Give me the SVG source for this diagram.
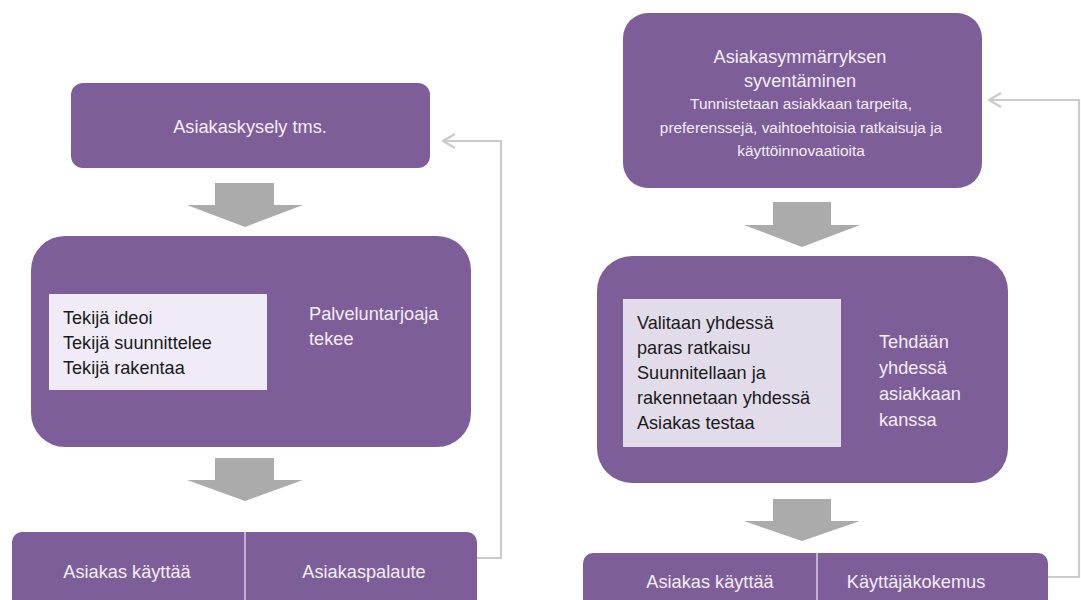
<svg xmlns="http://www.w3.org/2000/svg" width="1081" height="600" viewBox="0 0 1081 600">
<defs>
<style>
.box{fill:#7e5e99}
.inner{fill:#f0ebf7}
.inner2{fill:#e2dcea}
.arr{fill:#ababab}
.fb{fill:none;stroke:#cbcbcb;stroke-width:2.2}
.div{stroke:#d8d0e0;stroke-width:1.5}
text{font-family:"Liberation Sans",Arial,sans-serif}
.wt{fill:#f2eef7;font-size:18.2px}
.sm{font-size:15.4px}
.dk{fill:#1a1a1a;font-size:18.1px}
</style>
<marker id="open" viewBox="0 0 14 16" refX="13" refY="8" markerWidth="14" markerHeight="16" markerUnits="userSpaceOnUse" orient="auto">
<path d="M1,1 L13,8 L1,15" fill="none" stroke="#cbcbcb" stroke-width="2.2"/>
</marker>
</defs>
<rect width="1081" height="600" fill="#ffffff"/>
<g id="connectors">
<path class="fb" d="M477,558 H501 V141 H443" marker-end="url(#open)"/>
<path class="fb" d="M1048,577 H1079 V100 H989" marker-end="url(#open)"/>
<path class="arr" d="M215,183 H274 V205 H303 L245,227 L187,205 H215 Z"/>
<path class="arr" d="M215,458 H274 V480 H303 L245,501 L187,480 H215 Z"/>
<path class="arr" d="M773,202 H831 V225 H860 L802,247 L744,225 H773 Z"/>
<path class="arr" d="M773,499 H831 V521 H860 L802,541 L744,521 H773 Z"/>
</g>
<g id="n1">
<rect class="box" x="71" y="83" width="359" height="85" rx="12"/>
<text class="wt" x="250" y="133" text-anchor="middle">Asiakaskysely tms.</text>
</g>
<g id="n2">
<rect class="box" x="31" y="236" width="440" height="211" rx="34"/>
<rect class="inner" x="49" y="294" width="218" height="96"/>
<text class="dk" x="63" y="324">Tekijä ideoi</text>
<text class="dk" x="63" y="349">Tekijä suunnittelee</text>
<text class="dk" x="63" y="374">Tekijä rakentaa</text>
<text class="wt" x="309" y="320">Palveluntarjoaja</text>
<text class="wt" x="309" y="345">tekee</text>
</g>
<g id="n3">
<rect class="box" x="12" y="532" width="465" height="90" rx="10"/>
<line class="div" x1="245" y1="532" x2="245" y2="600"/>
<text class="wt" x="127" y="578" text-anchor="middle">Asiakas käyttää</text>
<text class="wt" x="364" y="578" text-anchor="middle">Asiakaspalaute</text>
</g>
<g id="n4">
<rect class="box" x="623" y="13" width="359" height="175" rx="25"/>
<text class="wt" x="800" y="63" text-anchor="middle">Asiakasymmärryksen</text>
<text class="wt" x="800" y="87" text-anchor="middle">syventäminen</text>
<text class="wt sm" x="801" y="109" text-anchor="middle">Tunnistetaan asiakkaan tarpeita,</text>
<text class="wt sm" x="801" y="133" text-anchor="middle">preferenssejä, vaihtoehtoisia ratkaisuja ja</text>
<text class="wt sm" x="801" y="156" text-anchor="middle">käyttöinnovaatioita</text>
</g>
<g id="n5">
<rect class="box" x="597" y="256" width="411" height="227" rx="35"/>
<rect class="inner2" x="623" y="299" width="218" height="148"/>
<text class="dk" x="637" y="329">Valitaan yhdessä</text>
<text class="dk" x="637" y="354">paras ratkaisu</text>
<text class="dk" x="637" y="379">Suunnitellaan ja</text>
<text class="dk" x="637" y="404">rakennetaan yhdessä</text>
<text class="dk" x="637" y="429">Asiakas testaa</text>
<text class="wt" x="879" y="348">Tehdään</text>
<text class="wt" x="879" y="374">yhdessä</text>
<text class="wt" x="879" y="400">asiakkaan</text>
<text class="wt" x="879" y="426">kanssa</text>
</g>
<g id="n6">
<rect class="box" x="583" y="553" width="465" height="70" rx="10"/>
<line class="div" x1="817" y1="553" x2="817" y2="600"/>
<text class="wt" x="710" y="588" text-anchor="middle">Asiakas käyttää</text>
<text class="wt" x="916" y="588" text-anchor="middle">Käyttäjäkokemus</text>
</g>
</svg>
